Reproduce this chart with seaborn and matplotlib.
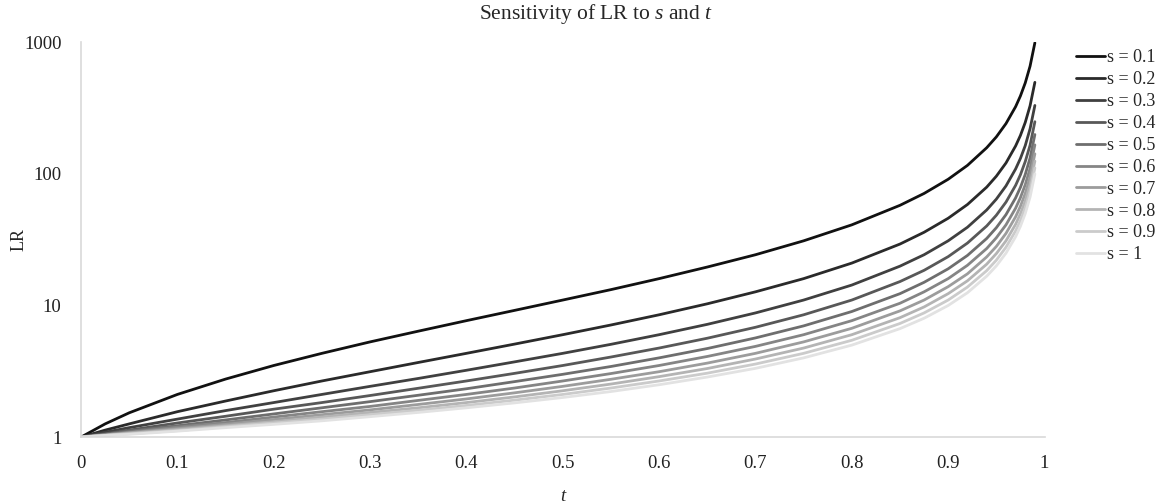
import pandas as pd
import numpy as np
import matplotlib.pyplot as plt
import seaborn as sns

# t values along the x axis
t_vals = [0, 0.025, 0.05, 0.1, 0.15, 0.2, 0.25, 0.3, 0.35, 0.4, 0.45, 0.5, 0.55, 0.6,
          0.65, 0.7, 0.75, 0.8, 0.85, 0.875, 0.9, 0.92, 0.94, 0.95, 0.96, 0.97,
          0.975, 0.98, 0.985, 0.99]

# LR for each s
lr_s01 = [1, 1.26, 1.53, 2.11, 2.76, 3.5, 4.33, 5.29, 6.38, 7.67, 9.18, 11, 13.2, 16,
          19.6, 24.3, 31, 41, 57.7, 71, 91, 116, 158, 191, 241, 324, 391, 491, 658, 991]
lr_s02 = [1, 1.13, 1.26, 1.56, 1.88, 2.25, 2.67, 3.14, 3.69, 4.33, 5.09, 6, 7.11, 8.5,
          10.3, 12.7, 16, 21, 29.3, 36, 46, 58.5, 79.3, 96, 121, 163, 196, 246, 329, 496]
lr_s03 = [1, 1.09, 1.18, 1.37, 1.59, 1.83, 2.11, 2.43, 2.79, 3.22, 3.73, 4.33, 5.07, 6,
          7.19, 8.78, 11, 14.3, 19.9, 24.3, 31, 39.3, 53.2, 64.3, 81, 109, 131, 164, 220, 331]
lr_s04 = [1, 1.06, 1.13, 1.28, 1.44, 1.63, 1.83, 2.07, 2.35, 2.67, 3.05, 3.5, 4.06, 4.75,
          5.64, 6.83, 8.5, 11, 15.2, 18.5, 23.5, 29.8, 40.2, 48.5, 61, 81.8, 98.5, 124, 165, 249]
lr_s05 = [1, 1.05, 1.11, 1.22, 1.35, 1.5, 1.67, 1.86, 2.08, 2.33, 2.64, 3, 3.44, 4,
          4.71, 5.67, 7, 9, 12.3, 15, 19, 24, 32.3, 39, 49, 65.7, 79, 99, 132, 199]
lr_s06 = [1, 1.04, 1.09, 1.19, 1.29, 1.42, 1.56, 1.71, 1.90, 2.11, 2.36, 2.67, 3.04, 3.5,
          4.10, 4.89, 6, 7.67, 10.4, 12.7, 16, 20.2, 27.1, 32.7, 41, 54.9, 66, 82.7, 110, 166]
lr_s07 = [1, 1.04, 1.08, 1.16, 1.25, 1.36, 1.48, 1.61, 1.77, 1.95, 2.17, 2.43, 2.75, 3.14,
          3.65, 4.33, 5.29, 6.71, 9.1, 11, 13.9, 17.4, 23.4, 28.1, 35.3, 47.2, 56.7, 71, 94.8, 142]
lr_s08 = [1, 1.03, 1.07, 1.14, 1.22, 1.31, 1.42, 1.54, 1.67, 1.83, 2.02, 2.25, 2.53, 2.88,
          3.32, 3.92, 4.75, 6, 8.08, 9.75, 12.3, 15.4, 20.6, 24.8, 31, 41.4, 49.8, 62.3, 83.1, 125]
lr_s09 = [1, 1.03, 1.06, 1.12, 1.20, 1.28, 1.37, 1.48, 1.60, 1.74, 1.91, 2.11, 2.36, 2.67,
          3.06, 3.59, 4.33, 5.44, 7.3, 8.78, 11, 13.8, 18.4, 22.1, 27.7, 36.9, 44.3, 55.4, 74, 111]
lr_s10 = [1, 1.03, 1.05, 1.11, 1.18, 1.25, 1.33, 1.43, 1.54, 1.67, 1.82, 2, 2.22, 2.5,
          2.86, 3.33, 4, 5, 6.67, 8, 10, 12.5, 16.7, 20, 25, 33.3, 40, 50, 66.7, 100]

series_labels = ['s = 0.1', 's = 0.2', 's = 0.3', 's = 0.4', 's = 0.5',
                 's = 0.6', 's = 0.7', 's = 0.8', 's = 0.9', 's = 1']
series_vals = [lr_s01, lr_s02, lr_s03, lr_s04, lr_s05,
               lr_s06, lr_s07, lr_s08, lr_s09, lr_s10]

y_ticks = [1, 10, 100, 1000]
x_ticks = [0, 0.1, 0.2, 0.3, 0.4, 0.5, 0.6, 0.7, 0.8, 0.9, 1]
x_ticklabels = ['0', '0.1', '0.2', '0.3', '0.4', '0.5', '0.6', '0.7', '0.8', '0.9', '1']

greys = ['#111111', '#2a2a2a', '#404040', '#585858', '#6e6e6e',
         '#858585', '#9c9c9c', '#b4b4b4', '#cbcbcb', '#e2e2e2']

df = pd.concat([pd.DataFrame({'t': t_vals, 'LR': v, 's': lab})
                for lab, v in zip(series_labels, series_vals)], ignore_index=True)

sns.set_style('white')
plt.rcParams['font.family'] = ['Liberation Serif', 'DejaVu Serif']
plt.rcParams['mathtext.fontset'] = 'custom'
plt.rcParams['mathtext.rm'] = 'Liberation Serif'
plt.rcParams['mathtext.it'] = 'Liberation Serif:italic'

fig = plt.figure(figsize=(11.58, 5.03), dpi=100)
ax = fig.add_axes([0.070, 0.131, 0.832, 0.785])

sns.lineplot(data=df, x='t', y='LR', hue='s', palette=greys, linewidth=2,
             ax=ax, legend=True)

ax.set_yscale('log')
ax.set_ylim(1, 1000)
ax.set_xlim(0, 1)
ax.set_yticks(y_ticks)
ax.set_yticklabels([str(v) for v in y_ticks])
ax.minorticks_off()
ax.set_xticks(x_ticks)
ax.set_xticklabels(x_ticklabels)
ax.tick_params(axis='both', length=0, labelsize=13.5, colors='#222222')
ax.tick_params(axis='x', pad=13)
ax.tick_params(axis='y', pad=14)

for side in ['top', 'right']:
    ax.spines[side].set_visible(False)
for side in ['left', 'bottom']:
    ax.spines[side].set_color('#d9d9d9')
    ax.spines[side].set_linewidth(1.2)

ax.set_xlabel('t', fontstyle='italic', fontsize=13.5)
ax.xaxis.set_label_coords(0.50, -0.128)
ax.set_ylabel('LR', fontsize=13)
ax.yaxis.set_label_coords(-0.056, 0.5)
ax.set_title('Sensitivity of LR to $\\it{s}$ and $\\it{t}$', fontsize=15.5,
             x=0.535, y=1.0, pad=17)

leg = ax.legend(loc='upper left', bbox_to_anchor=(1.025, 1.0), frameon=False,
                fontsize=13, handlelength=1.6, handletextpad=0.1,
                labelspacing=0.27, borderaxespad=0)

plt.savefig('out.png', dpi=100)
